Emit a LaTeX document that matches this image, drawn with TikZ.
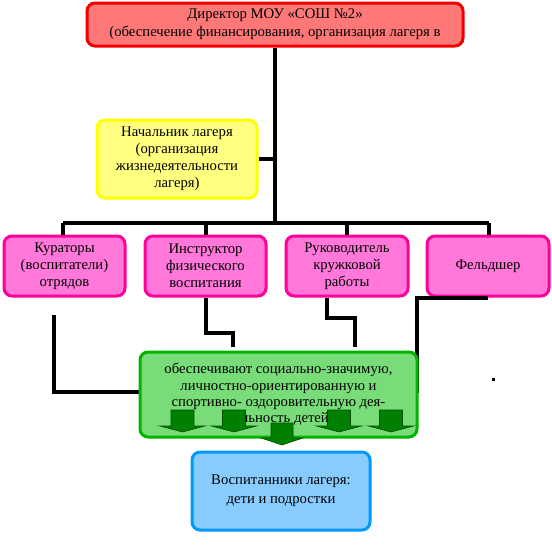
\documentclass[tikz,border=0pt]{standalone}
\usepackage{fontspec}
\setmainfont{Liberation Serif}
\definecolor{redline}{HTML}{F00000}
\definecolor{redfill}{HTML}{FF7878}
\definecolor{yelline}{HTML}{FFFF00}
\definecolor{yelfill}{HTML}{FFFF80}
\definecolor{magline}{HTML}{FF0099}
\definecolor{magfill}{HTML}{FF78DA}
\definecolor{grnline}{HTML}{00B400}
\definecolor{grnfill}{HTML}{78DD78}
\definecolor{bluline}{HTML}{0099FF}
\definecolor{blufill}{HTML}{88CCFF}
\definecolor{arrgreen}{HTML}{008000}
\tikzset{
  box/.style={rectangle, rounded corners=8pt, line width=3pt, align=center,
    inner sep=0pt, font=\fontsize{14.7}{17}\selectfont},
  conn/.style={line width=4pt, draw=black},
  blockarrow/.style={fill=arrgreen, draw=arrgreen!60!black, line width=0.6pt}
}
\begin{document}
\begin{tikzpicture}[x=1pt,y=-1pt]
\useasboundingbox (0,0) rectangle (552,546);
% boxes
\node[box, draw=redline, fill=redfill, minimum width=376pt, minimum height=43pt,
  font=\fontsize{14.7}{18}\selectfont] (dir) at (275,24.5)
  {Директор МОУ «СОШ №2»\\(обеспечение финансирования, организация лагеря в};
\node[box, draw=yelline, fill=yelfill, minimum width=160pt, minimum height=78pt] (head) at (177,159)
  {Начальник лагеря\\(организация\\жизнедеятельности\\лагеря)};
\node[box, draw=magline, fill=magfill, minimum width=121pt, minimum height=60pt] (kur) at (64.5,266)
  {Кураторы\\(воспитатели)\\отрядов};
\node[box, draw=magline, fill=magfill, minimum width=121pt, minimum height=60pt] (ins) at (205.5,266)
  {Инструктор\\физического\\воспитания};
\node[box, draw=magline, fill=magfill, minimum width=122pt, minimum height=60pt] (ruk) at (347,266)
  {Руководитель\\кружковой\\работы};
\node[box, draw=magline, fill=magfill, minimum width=122pt, minimum height=60pt] (fel) at (488,266)
  {Фельдшер};
% upper connectors
\coordinate (jy) at (275,223);
\draw[conn] (dir.south -| jy) -- (jy);
\draw[conn] (head.east) -- (head.east -| jy);
\draw[conn] (63,223) -- (489,223);
\draw[conn] (63,223) -- (kur.north -| 63,0);
\draw[conn] (206,223) -- (ins.north -| 206,0);
\draw[conn] (347,223) -- (ruk.north -| 347,0);
\draw[conn] (489,223) -- (fel.north -| 489,0);
% lower connectors
\coordinate (kurfree) at (54,315);
\coordinate (insend) at (233,347);
\coordinate (rukend) at (355,347);
\coordinate (felend) at (417,393);
\draw[conn] (kurfree) |- (140,392) coordinate (kurend);
\draw[conn] (ins.south -| 206,0) |- (233,333) -- (insend);
\draw[conn] (ruk.south -| 327,0) |- (355,318) -- (rukend);
\draw[conn] (fel.south -| 488,0) -| (felend);
% green box
\node[box, draw=grnline, fill=grnfill, minimum width=277pt, minimum height=85pt,
  font=\fontsize{14.7}{16.3}\selectfont] (act) at (278.5,394.5)
  {обеспечивают социально-значимую,\\личностно-ориентированную и\\спортивно- оздоровительную дея-\\тельность детей};
% blue box
\node[box, draw=bluline, fill=blufill, minimum width=178pt, minimum height=78pt,
  font=\fontsize{14.7}{19}\selectfont] (pup) at (281,491)
  {Воспитанники лагеря:\\дети и подростки};
% block arrows
\foreach \c in {182.5,234,339,391}{
  \draw[blockarrow] (\c-11.5,410) -- (\c+11.5,410) -- (\c+11.5,426) -- (\c+22.5,426)
    -- (\c,432) -- (\c-22.5,426) -- (\c-11.5,426) -- cycle;
}
\draw[blockarrow] (271,423) -- (293,423) -- (293,438) -- (303,438) -- (282,445)
  -- (261,438) -- (271,438) -- cycle;
% stray mark
\fill (492,378) rectangle (495,381);
\end{tikzpicture}
\end{document}
